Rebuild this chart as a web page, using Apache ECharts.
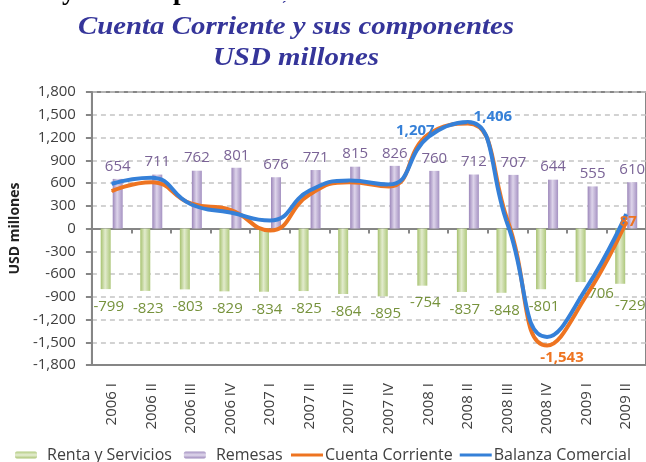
<!DOCTYPE html>
<html>
<head>
<meta charset="utf-8">
<script src="https://cdn.jsdelivr.net/npm/echarts@6/dist/echarts.min.js"></script>
<style>
html,body{margin:0;padding:0;background:#fff;}
#chart{width:646px;height:462px;}
</style>
</head>
<body>
<div id="chart"></div>
<script>
var categories = ['2006 I','2006 II','2006 III','2006 IV','2007 I','2007 II','2007 III','2007 IV','2008 I','2008 II','2008 III','2008 IV','2009 I','2009 II'];
var rentaServicios = [-799,-823,-803,-829,-834,-825,-864,-895,-754,-837,-848,-801,-706,-729];
var remesas = [654,711,762,801,676,771,815,826,760,712,707,644,555,610];
var cuentaCorriente = [492,611,330,245,-25,448,611,555,1240,1385,110,-1543,-880,87];
var balanzaComercial = [590,669,320,210,105,500,633,580,1207,1406,60,-1430,-780,190];
var yTicks = {min:-1800, max:1800, step:300};

var FONT = 'Open Sans';
var fmt = function (v) { return Number(v).toLocaleString('en-US'); };

// label styling for the few labelled line points (style only, by index)
var ccLabels = {
  11: {offset:[15,12]},
  13: {offset:[2,0]}
};
var bcLabels = {
  8: {offset:[-13,-6]},
  9: {offset:[25,-5]}
};
var rentaLabelOffsets = {12:[18,-6], 13:[10,4]};

function lineData(values, labels, color) {
  return values.map(function (v, i) {
    var item = {value: v};
    if (labels[i]) {
      item.label = {
        show: true, position: 'inside', offset: labels[i].offset,
        color: color, fontFamily: FONT, fontSize: 15, fontWeight: 'bold',
        formatter: function (p) { return fmt(p.value); }
      };
    }
    return item;
  });
}

function rentaData(values) {
  return values.map(function (v, i) {
    var item = {value: v};
    if (rentaLabelOffsets[i]) item.label = {offset: rentaLabelOffsets[i]};
    return item;
  });
}

var greenGrad = new echarts.graphic.LinearGradient(0,0,1,0,[
  {offset:0,color:'#a7c270'},{offset:0.45,color:'#e2ebcd'},{offset:1,color:'#aec87c'}]);
var purpleGrad = new echarts.graphic.LinearGradient(0,0,1,0,[
  {offset:0,color:'#9c87ba'},{offset:0.45,color:'#ddd4ea'},{offset:1,color:'#a592c2'}]);
var greenLeg = new echarts.graphic.LinearGradient(0,0,0,1,[
  {offset:0,color:'#b2cb80'},{offset:0.5,color:'#e6eed3'},{offset:1,color:'#a9c372'}]);
var purpleLeg = new echarts.graphic.LinearGradient(0,0,0,1,[
  {offset:0,color:'#a593c2'},{offset:0.5,color:'#e0d8ec'},{offset:1,color:'#9c87ba'}]);

var ORANGE = '#ee7421';
var BLUE = '#3580d8';
var TITLE_COLOR = '#35359a';

var chart = echarts.init(document.getElementById('chart'), null, {renderer:'canvas'});
chart.setOption({
  animation: false,
  backgroundColor: '#ffffff',
  graphic: [
    {type:'text', x: 275, y: 6, silent:true,
     style:{text:'Cuenta Corriente y sus componentes', fill:'#000', font:'bold 27px "Liberation Serif"', textAlign:'right', textVerticalAlign:'bottom'}},
    {type:'text', x: 284, y: 7, silent:true,
     style:{text:'\u00b4', fill:TITLE_COLOR, font:'bold 14px "Liberation Serif"', textAlign:'center', textVerticalAlign:'middle'}},
    {type:'text', x: 296, y: 27, scaleX: 1.11, silent:true,
     style:{text:'Cuenta Corriente y sus componentes', fill:TITLE_COLOR, font:'italic bold 26px "Liberation Serif"', textAlign:'center', textVerticalAlign:'middle'}},
    {type:'text', x: 296, y: 58, scaleX: 1.11, silent:true,
     style:{text:'USD millones', fill:TITLE_COLOR, font:'italic bold 26px "Liberation Serif"', textAlign:'center', textVerticalAlign:'middle'}}
  ],
  legend: [
    {left: 15, top: 447, padding: 0, itemGap: 12, itemWidth: 22, itemHeight: 7,
     textStyle: {fontFamily: FONT, fontSize: 16, color:'#404040', padding:[0,0,0,5]},
     data: [{name:'Renta y Servicios', itemStyle:{color: greenLeg}},
            {name:'Remesas', itemStyle:{color: purpleLeg}}]},
    {left: 291, top: 447, padding: 0, itemGap: 7, itemWidth: 32, itemHeight: 3, icon: 'rect',
     textStyle: {fontFamily: FONT, fontSize: 16, color:'#404040', padding:[0,0,0,-3]},
     data: ['Cuenta Corriente','Balanza Comercial']}
  ],
  grid: {left: 80, top: 92, width: 571, height: 273, show: true,
         borderColor: '#868686', borderWidth: 2, backgroundColor: '#ffffff'},
  xAxis: [
    {type:'category', data: categories, position:'bottom',
     axisLine:{onZero:false, show:true, lineStyle:{color:'#868686', width:2}},
     axisTick:{show:false},
     axisLabel:{rotate:90, interval:0, margin:18, fontFamily:FONT, fontSize:15, color:'#404040'},
     splitLine:{show:false}},
    {type:'category', data: categories, position:'bottom',
     axisLine:{onZero:true, show:true, lineStyle:{color:'#868686', width:2}},
     axisTick:{show:true, length:5, interval:0, lineStyle:{color:'#868686', width:2}},
     axisLabel:{show:false}, splitLine:{show:false}}
  ],
  yAxis: {
    type:'value', min: yTicks.min, max: yTicks.max, interval: yTicks.step,
    name: 'USD millones', nameLocation: 'middle', nameGap: 50, nameRotate: 90,
    nameTextStyle: {fontFamily: FONT, fontSize: 14, fontWeight:'bold', color:'#222'},
    axisLine:{show:true, lineStyle:{color:'#868686', width:2}},
    axisTick:{show:true, length:6, lineStyle:{color:'#868686', width:2}},
    axisLabel:{margin:16, fontFamily:FONT, fontSize:15, color:'#404040', formatter: fmt},
    splitLine:{show:true, lineStyle:{color:'#c4c4c4', width:1.5, type:[5,4]}}
  },
  series: [
    {name:'Renta y Servicios', type:'bar', data: rentaData(rentaServicios), barWidth: 10, barGap:'20%',
     itemStyle:{color: greenGrad},
     label:{show:true, position:'bottom', distance:10, offset:[3,0], color:'#76923c', fontFamily:FONT, fontSize:15,
            formatter: function(p){return fmt(p.value);}}},
    {name:'Remesas', type:'bar', data: remesas, barWidth: 10,
     itemStyle:{color: purpleGrad},
     label:{show:true, position:'top', distance:5, color:'#7a6396', fontFamily:FONT, fontSize:15,
            formatter: function(p){return fmt(p.value);}}},
    {name:'Cuenta Corriente', type:'line', smooth: 0.5, data: lineData(cuentaCorriente, ccLabels, ORANGE),
     symbol:'circle', symbolSize:1, showSymbol:true,
     lineStyle:{color: ORANGE, width:4}, itemStyle:{color: ORANGE}},
    {name:'Balanza Comercial', type:'line', smooth: 0.5, data: lineData(balanzaComercial, bcLabels, BLUE),
     symbol:'circle', symbolSize:1, showSymbol:true,
     lineStyle:{color: BLUE, width:4}, itemStyle:{color: BLUE}}
  ]
});
</script>
</body>
</html>
